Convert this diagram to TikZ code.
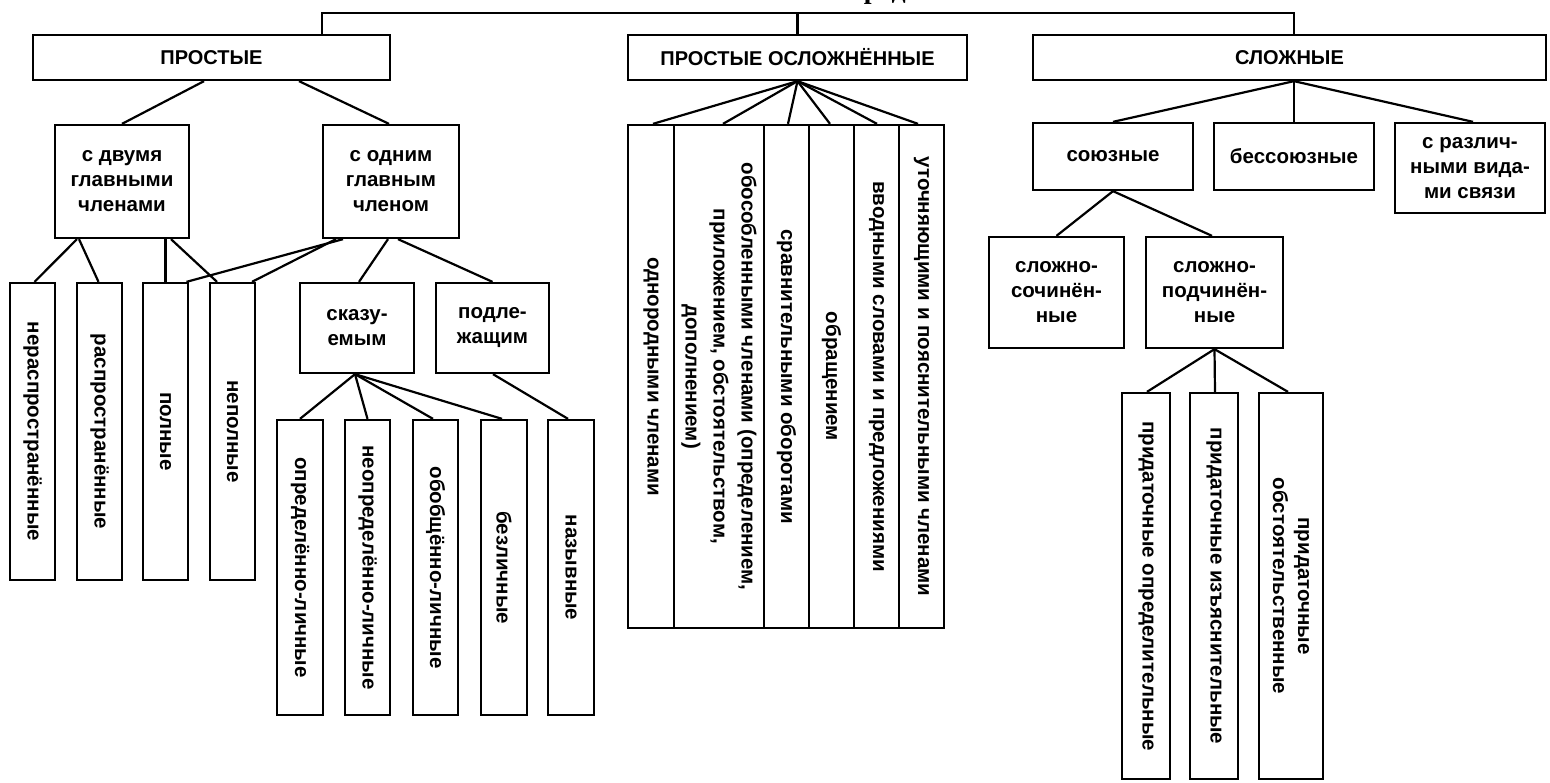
\documentclass[tikz,border=0pt]{standalone}
\usepackage{fontspec}
\setmainfont{Liberation Sans}
\newfontfamily\titlefont{Liberation Serif}
\usetikzlibrary{calc}
\begin{document}
\begin{tikzpicture}[x=1pt,y=-1pt,
  box/.style={draw, line width=2.3pt, inner sep=0pt, align=center, font=\bfseries\fontsize{20.5}{25}\selectfont},
  capbox/.style={box, font=\bfseries\fontsize{20}{25}\selectfont},
  vbox/.style={box, rotate=-90},
  link/.style={line width=2.2pt}]
\useasboundingbox (0,0) rectangle (1550,782);

% title (cut off at the top edge)
\node[anchor=base west, inner sep=0pt, font=\titlefont\bfseries\fontsize{28}{30}\selectfont] (title) at (842,-2) {Предложения};

% level 1
\node[capbox, minimum width=357pt, minimum height=45pt] (prost) at (211.5,57.5) {ПРОСТЫЕ};
\node[capbox, minimum width=339pt, minimum height=45pt] (osl) at (797.5,57.5) {ПРОСТЫЕ ОСЛОЖНЁННЫЕ};
\node[capbox, minimum width=513pt, minimum height=45pt] (slozh) at (1289.5,57.5) {СЛОЖНЫЕ};

\coordinate (tl) at (322,13);
\coordinate (tr) at (1294,13);
\draw[link] ([xshift=110.5pt]prost.north) -- (tl) -- (tr) -- ([xshift=4.5pt]slozh.north);
\draw[link] (osl.north) -- (osl.north |- tl);

% ПРОСТЫЕ
\node[box, minimum width=134pt, minimum height=113pt] (dva) at (122,181.5) {с двумя\\главными\\членами};
\node[box, minimum width=136pt, minimum height=113pt] (odin) at (391,181.5) {с одним\\главным\\членом};
\draw[link] ([xshift=-7.5pt]prost.south) -- (dva.north);
\draw[link] ([xshift=87.5pt]prost.south) -- ([xshift=-2pt]odin.north);

\node[vbox, minimum width=297pt, minimum height=45pt] (nerasp) at (32.5,431.5) {нераспространённые};
\node[vbox, minimum width=297pt, minimum height=45pt] (rasp) at (99.5,431.5) {распространённые};
\node[vbox, minimum width=297pt, minimum height=45pt] (poln) at (165.5,431.5) {полные};
\node[vbox, minimum width=297pt, minimum height=45pt] (nepoln) at (232.5,431.5) {неполные};

\draw[link] ([xshift=-45pt]dva.south) -- ([xshift=2pt]nerasp.west);
\draw[link] ([xshift=-43pt]dva.south) -- ([xshift=-1pt]rasp.west);
\draw[link] (poln.west |- dva.south) -- (poln.west);
\draw[link] ([xshift=49pt]dva.south) -- ([xshift=-15.5pt]nepoln.west);
\draw[link] ([xshift=-48pt]odin.south) -- ([xshift=21pt]poln.west);
\draw[link] ([xshift=-55pt]odin.south) -- ([xshift=19.5pt]nepoln.west);

\node[box, minimum width=114pt, minimum height=90pt] (skaz) at (357,328) {сказу-\\емым};
\node[box, minimum width=113pt, minimum height=90pt] (podl) at (492.5,328) {подле-\\жащим};
\draw[link] ([xshift=-3pt]odin.south) -- ([xshift=2pt]skaz.north);
\draw[link] ([xshift=7pt]odin.south) -- (podl.north);

\node[vbox, minimum width=295pt, minimum height=46pt] (opr) at (300,567.5) {определённо-личные};
\node[vbox, minimum width=295pt, minimum height=45pt] (neopr) at (367.5,567.5) {неопределённо-личные};
\node[vbox, minimum width=295pt, minimum height=45pt] (obob) at (435.5,567.5) {обобщённо-личные};
\node[vbox, minimum width=295pt, minimum height=46pt] (bezl) at (504,567.5) {безличные};
\node[vbox, minimum width=295pt, minimum height=46pt] (nazyv) at (571,567.5) {назывные};
\draw[link] ([xshift=-2pt]skaz.south) -- (opr.west);
\draw[link] ([xshift=-2pt]skaz.south) -- (neopr.west);
\draw[link] ([xshift=-2pt]skaz.south) -- ([xshift=-2.5pt]obob.west);
\draw[link] ([xshift=-2pt]skaz.south) -- ([xshift=-2pt]bezl.west);
\draw[link] ([xshift=0.5pt]podl.south) -- ([xshift=-3pt]nazyv.west);

% ПРОСТЫЕ ОСЛОЖНЁННЫЕ
\node[vbox, minimum width=503pt, minimum height=46pt] (c1) at (651,376.5) {однородными членами};
\node[vbox, minimum width=503pt, minimum height=90pt, font=\bfseries\fontsize{20.5}{28}\selectfont] (c2) at (719,376.5) {обособленными членами (определением,\\приложением, обстоятельством,\\дополнением)};
\node[vbox, minimum width=503pt, minimum height=45pt] (c3) at (786.5,376.5) {сравнительными оборотами};
\node[vbox, minimum width=503pt, minimum height=45pt] (c4) at (831.5,376.5) {обращением};
\node[vbox, minimum width=503pt, minimum height=45pt] (c5) at (876.5,376.5) {вводными словами и предложениями};
\node[vbox, minimum width=503pt, minimum height=45pt] (c6) at (921.5,376.5) {уточняющими и пояснительными членами};
\draw[link] (osl.south) -- ([xshift=2pt]c1.west);
\draw[link] (osl.south) -- ([xshift=4pt]c2.west);
\draw[link] (osl.south) -- ([xshift=1.5pt]c3.west);
\draw[link] (osl.south) -- ([xshift=-1.5pt]c4.west);
\draw[link] (osl.south) -- ([xshift=0.5pt]c5.west);
\draw[link] (osl.south) -- ([xshift=-3.5pt]c6.west);

% СЛОЖНЫЕ
\node[box, minimum width=160pt, minimum height=67pt] (soyuz) at (1113,156.5) {союзные};
\node[box, minimum width=160pt, minimum height=67pt] (bess) at (1294,156.5) {бессоюзные};
\node[box, minimum width=150pt, minimum height=90pt] (razl) at (1470,168) {с различ-\\ными вида-\\ми связи};
\draw[link] ([xshift=4.5pt]slozh.south) -- (soyuz.north);
\draw[link] ([xshift=4.5pt]slozh.south) -- (bess.north);
\draw[link] ([xshift=4.5pt]slozh.south) -- ([xshift=3pt]razl.north);

\node[box, minimum width=135pt, minimum height=111pt] (sochin) at (1056.5,292.5) {сложно-\\сочинён-\\ные};
\node[box, minimum width=137pt, minimum height=111pt] (podchin) at (1214.5,292.5) {сложно-\\подчинён-\\ные};
\draw[link] (soyuz.south) -- (sochin.north);
\draw[link] (soyuz.south) -- ([xshift=-2.5pt]podchin.north);

\node[vbox, minimum width=386pt, minimum height=48pt] (pr1) at (1146,586) {придаточные определительные};
\node[vbox, minimum width=386pt, minimum height=48pt] (pr2) at (1214,586) {придаточные изъяснительные};
\node[vbox, minimum width=386pt, minimum height=64pt] (pr3) at (1291,586) {придаточные\\обстоятельственные};
\draw[link] (podchin.south) -- ([xshift=1pt]pr1.west);
\draw[link] (podchin.south) -- ([xshift=1pt]pr2.west);
\draw[link] (podchin.south) -- ([xshift=-3pt]pr3.west);
\end{tikzpicture}
\end{document}
